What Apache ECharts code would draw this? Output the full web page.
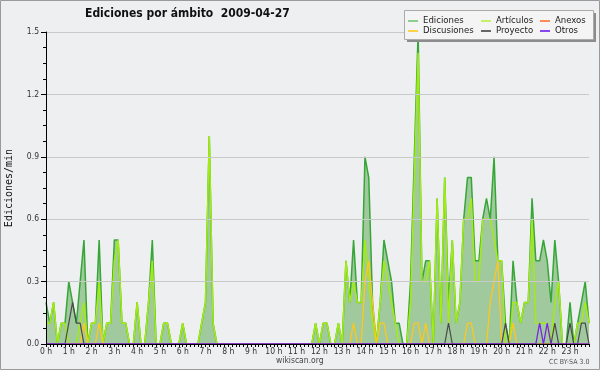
<!DOCTYPE html>
<html><head><meta charset="utf-8">
<script src="https://cdn.jsdelivr.net/npm/echarts@6/dist/echarts.min.js"></script>
<style>html,body{margin:0;padding:0;background:#eeeff1}#c{width:600px;height:370px}</style>
</head><body><div id="c"></div><script>
// 10-minute buckets, 6 per hour, values in edits/min
const hourLabels = ['0','1','2','3','4','5','6','7','8','9','10','11','12','13','14','15','16','17','18','19','20','21','22','23'];
const yTicks = [0, 0.3, 0.6, 0.9, 1.2, 1.5];
const ediciones = [
 0.2,0.1,0.2,0,0.1,0.1,   0.3,0.2,0.1,0.3,0.5,0,   0.1,0.1,0.5,0,0.1,0.1,   0.5,0.5,0.1,0.1,0,0,
 0.2,0,0,0.2,0.5,0,       0,0.1,0.1,0,0,0,         0.1,0,0,0,0,0.1,         0.2,1.0,0.1,0,0,0,
 0,0,0,0,0,0,             0,0,0,0,0,0,             0,0,0,0,0,0,             0,0,0,0,0,0.1,
 0,0.1,0.1,0,0,0.1,       0,0.4,0.2,0.5,0.2,0.2,   0.9,0.8,0.2,0,0.2,0.5,   0.4,0.3,0.1,0.1,0,0,
 0.3,0.9,1.5,0.3,0.4,0.4, 0,0.7,0.1,0.8,0.2,0.5,   0.1,0.2,0.6,0.8,0.8,0.4, 0.4,0.6,0.7,0.6,0.9,0.4,
 0.4,0.1,0,0.4,0.2,0.1,   0.2,0.2,0.7,0.4,0.4,0.5, 0.4,0.2,0.5,0.3,0,0,     0.2,0,0.1,0.2,0.3,0.1
];
const articulos = [
 0.1,0.1,0.2,0,0.1,0.1,   0,0,0,0.1,0.2,0,         0.1,0.1,0.3,0,0.1,0.1,   0.4,0.5,0.1,0.1,0,0,
 0.2,0,0,0.2,0.4,0,       0,0.1,0.1,0,0,0,         0.1,0,0,0,0,0.1,         0.2,1.0,0.1,0,0,0,
 0,0,0,0,0,0,             0,0,0,0,0,0,             0,0,0,0,0,0,             0,0,0,0,0,0.1,
 0,0.1,0.1,0,0,0.1,       0,0.4,0.2,0.3,0.2,0.2,   0.5,0.3,0.1,0,0.2,0.4,   0.3,0.2,0.1,0,0,0,
 0.2,0.8,1.4,0.3,0.3,0.4, 0,0.7,0.1,0.8,0.1,0.5,   0.1,0.2,0.6,0.6,0.7,0.3, 0.3,0.6,0.6,0.6,0.5,0.4,
 0.4,0,0,0.2,0.2,0.1,     0.2,0.2,0.6,0.1,0.1,0.1, 0.1,0,0.2,0.3,0,0,       0,0,0.1,0.1,0.2,0.1
];
const anexos = [
 0,0,0,0,0,0, 0,0,0,0,0,0, 0,0,0,0,0,0, 0,0,0,0,0,0,
 0,0,0,0,0,0, 0,0,0,0,0,0, 0,0,0,0,0,0, 0,0,0,0,0,0,
 0,0,0,0,0,0, 0,0,0,0,0,0, 0,0,0,0,0,0, 0,0,0,0,0,0,
 0,0,0,0,0,0, 0,0,0,0,0,0, 0,0,0,0,0,0, 0,0,0,0,0,0,
 0,0,0,0,0,0, 0,0,0,0,0,0, 0,0,0,0,0,0, 0,0,0,0,0,0,
 0,0,0,0,0,0, 0,0,0,0,0,0, 0,0,0,0,0,0, 0,0,0,0,0,0
];
const discusiones = [
 0,0,0,0,0,0,         0,0,0,0,0.1,0,       0,0,0.1,0,0,0,       0,0,0,0,0,0,
 0,0,0,0,0,0,         0,0,0,0,0,0,         0,0,0,0,0,0,         0,0,0,0,0,0,
 0,0,0,0,0,0,         0,0,0,0,0,0,         0,0,0,0,0,0,         0,0,0,0,0,0,
 0,0,0,0,0,0,         0,0,0,0.1,0,0,       0.3,0.4,0.2,0,0.1,0.1, 0,0,0,0,0,0,
 0,0.1,0.1,0,0.1,0,   0,0,0,0,0,0,         0,0,0,0.1,0.1,0,     0,0,0,0.2,0.3,0.4,
 0,0,0,0.1,0,0,       0,0,0,0,0,0,         0,0,0,0,0,0,         0,0,0,0,0,0
];
const proyecto = [
 0,0,0,0,0,0,     0.1,0.2,0.1,0.1,0,0, 0,0,0,0,0,0,     0,0,0,0,0,0,
 0,0,0,0,0,0,     0,0,0,0,0,0,         0,0,0,0,0,0,     0,0,0,0,0,0,
 0,0,0,0,0,0,     0,0,0,0,0,0,         0,0,0,0,0,0,     0,0,0,0,0,0,
 0,0,0,0,0,0,     0,0,0,0,0,0,         0,0,0,0,0,0,     0,0,0,0,0,0,
 0,0,0,0,0,0,     0,0,0,0,0.1,0,       0,0,0,0,0,0,     0,0,0,0,0,0,
 0,0.1,0,0,0,0,   0,0,0,0,0,0,         0,0,0.1,0,0,0,   0.1,0,0,0.1,0.1,0
];
const otros = [
 0,0,0,0,0,0, 0,0,0,0,0,0, 0,0,0,0,0,0, 0,0,0,0,0,0,
 0,0,0,0,0,0, 0,0,0,0,0,0, 0,0,0,0,0,0, 0,0,0,0,0,0,
 0,0,0,0,0,0, 0,0,0,0,0,0, 0,0,0,0,0,0, 0,0,0,0,0,0,
 0,0,0,0,0,0, 0,0,0,0,0,0, 0,0,0,0,0,0, 0,0,0,0,0,0,
 0,0,0,0,0,0, 0,0,0,0,0,0, 0,0,0,0,0,0, 0,0,0,0,0,0,
 0,0,0,0,0,0, 0,0,0,0,0.1,0, 0.1,0,0,0,0,0, 0,0,0,0,0,0
];
const colors = {Ediciones:'#36a636', 'Artículos':'#a2ec12', Anexos:'#ff7b45', Discusiones:'#ffc71c', Proyecto:'#4a4a4a', Otros:'#7b22e6'};
const legendColors = {Ediciones:'#8ccf8c', 'Artículos':'#c4f06a', Anexos:'#ff8a5a', Discusiones:'#ffd24a', Proyecto:'#666666', Otros:'#8a44f0'};

const categories = [];
hourLabels.forEach(h => { for (let m = 0; m < 6; m++) categories.push(h + ':' + m + '0'); });

const F = "'DejaVu Sans Condensed','DejaVu Sans',sans-serif";
const chart = echarts.init(document.getElementById('c'), null, {renderer:'canvas'});

function lineSeries(name, data, extra) {
  return Object.assign({
    name, type:'line', data, showSymbol:false, symbol:'none', animation:false,
    lineStyle:{color:colors[name], width:1.5}, itemStyle:{color:colors[name]}
  }, extra || {});
}
function legendCol(names, left) {
  return {
    orient:'vertical', left, top:16, padding:0, itemWidth:10, itemHeight:2, itemGap:0, icon:'rect', z:101,
    selectedMode:false,
    textStyle:{fontFamily:F, fontSize:9.5, color:'#222', lineHeight:9.5, padding:[0,0,0,0]},
    data: names.map(n => ({name:n, itemStyle:{color:legendColors[n]}, lineStyle:{color:legendColors[n]}}))
  };
}

chart.setOption({
  backgroundColor:'#eeeff1',
  animation:false,
  title:{text:'Ediciones por ámbito  2009-04-27', left:85, top:8, padding:0,
    textStyle:{fontFamily:F, fontSize:12, fontWeight:'bold', color:'#111'}},
  legend:[legendCol(['Ediciones','Discusiones'], 408), legendCol(['Artículos','Proyecto'], 481), legendCol(['Anexos','Otros'], 540)],
  grid:{left:46, right:11, top:32, bottom:26, containLabel:false, outerBoundsMode:'none'},
  xAxis:{type:'category', data:categories, boundaryGap:false, z:10,
    axisLine:{lineStyle:{color:'#000', width:1}},
    axisTick:{show:true, interval:0, length:3, lineStyle:{color:'#000'}},
    axisLabel:{interval:5, margin:3, fontFamily:F, fontSize:8.5, color:'#333',
      formatter:(v, i) => (i % 6 === 0 ? hourLabels[i/6] + ' h' : '')},
    splitLine:{show:false}},
  yAxis:{type:'value', min:yTicks[0], max:yTicks[yTicks.length-1], interval:0.3, z:10,
    name:'Ediciones/min', nameLocation:'middle', nameGap:32, nameRotate:90,
    nameTextStyle:{fontFamily:"'DejaVu Sans Mono',monospace", fontSize:10, color:'#111'},
    axisLine:{show:true, lineStyle:{color:'#000'}},
    axisTick:{show:true, length:5, lineStyle:{color:'#000'}},
    minorTick:{show:true, splitNumber:4, length:3, lineStyle:{color:'#000'}},
    axisLabel:{margin:7, fontFamily:F, fontSize:8.5, color:'#333', formatter:v => v.toFixed(1)},
    splitLine:{show:true, lineStyle:{color:'#c9c9c9', width:1}}},
  series:[
    lineSeries('Ediciones', ediciones, {areaStyle:{color:'#a0c99e', opacity:1}, z:2}),
    lineSeries('Artículos', articulos, {z:3}),
    lineSeries('Anexos', anexos, {z:3}),
    lineSeries('Discusiones', discusiones, {z:3, lineStyle:{color:colors.Discusiones, width:1.3}}),
    lineSeries('Proyecto', proyecto, {z:3, lineStyle:{color:colors.Proyecto, width:1.2}}),
    lineSeries('Otros', otros, {z:3, lineStyle:{color:colors.Otros, width:1.3}})
  ],
  graphic:[
    {type:'rect', z:100, shape:{x:0.5, y:0.5, width:599, height:369}, style:{fill:'none', stroke:'#9a9a9a', lineWidth:1}},
    {type:'rect', z:100, shape:{x:407, y:13, width:189, height:29}, style:{fill:'#8c8c8c'}},
    {type:'rect', z:100, shape:{x:404.5, y:10.5, width:189, height:29}, style:{fill:'#f4f4f4', stroke:'#aaaaaa', lineWidth:1}},
    {type:'text', z:100, left:276, top:356, style:{text:'wikiscan.org', fontFamily:F, fontSize:8.5, fill:'#444'}},
    {type:'text', z:100, left:549, top:359, style:{text:'CC BY-SA 3.0', fontFamily:F, fontSize:7, fill:'#555'}}
  ]
});
</script></body></html>
